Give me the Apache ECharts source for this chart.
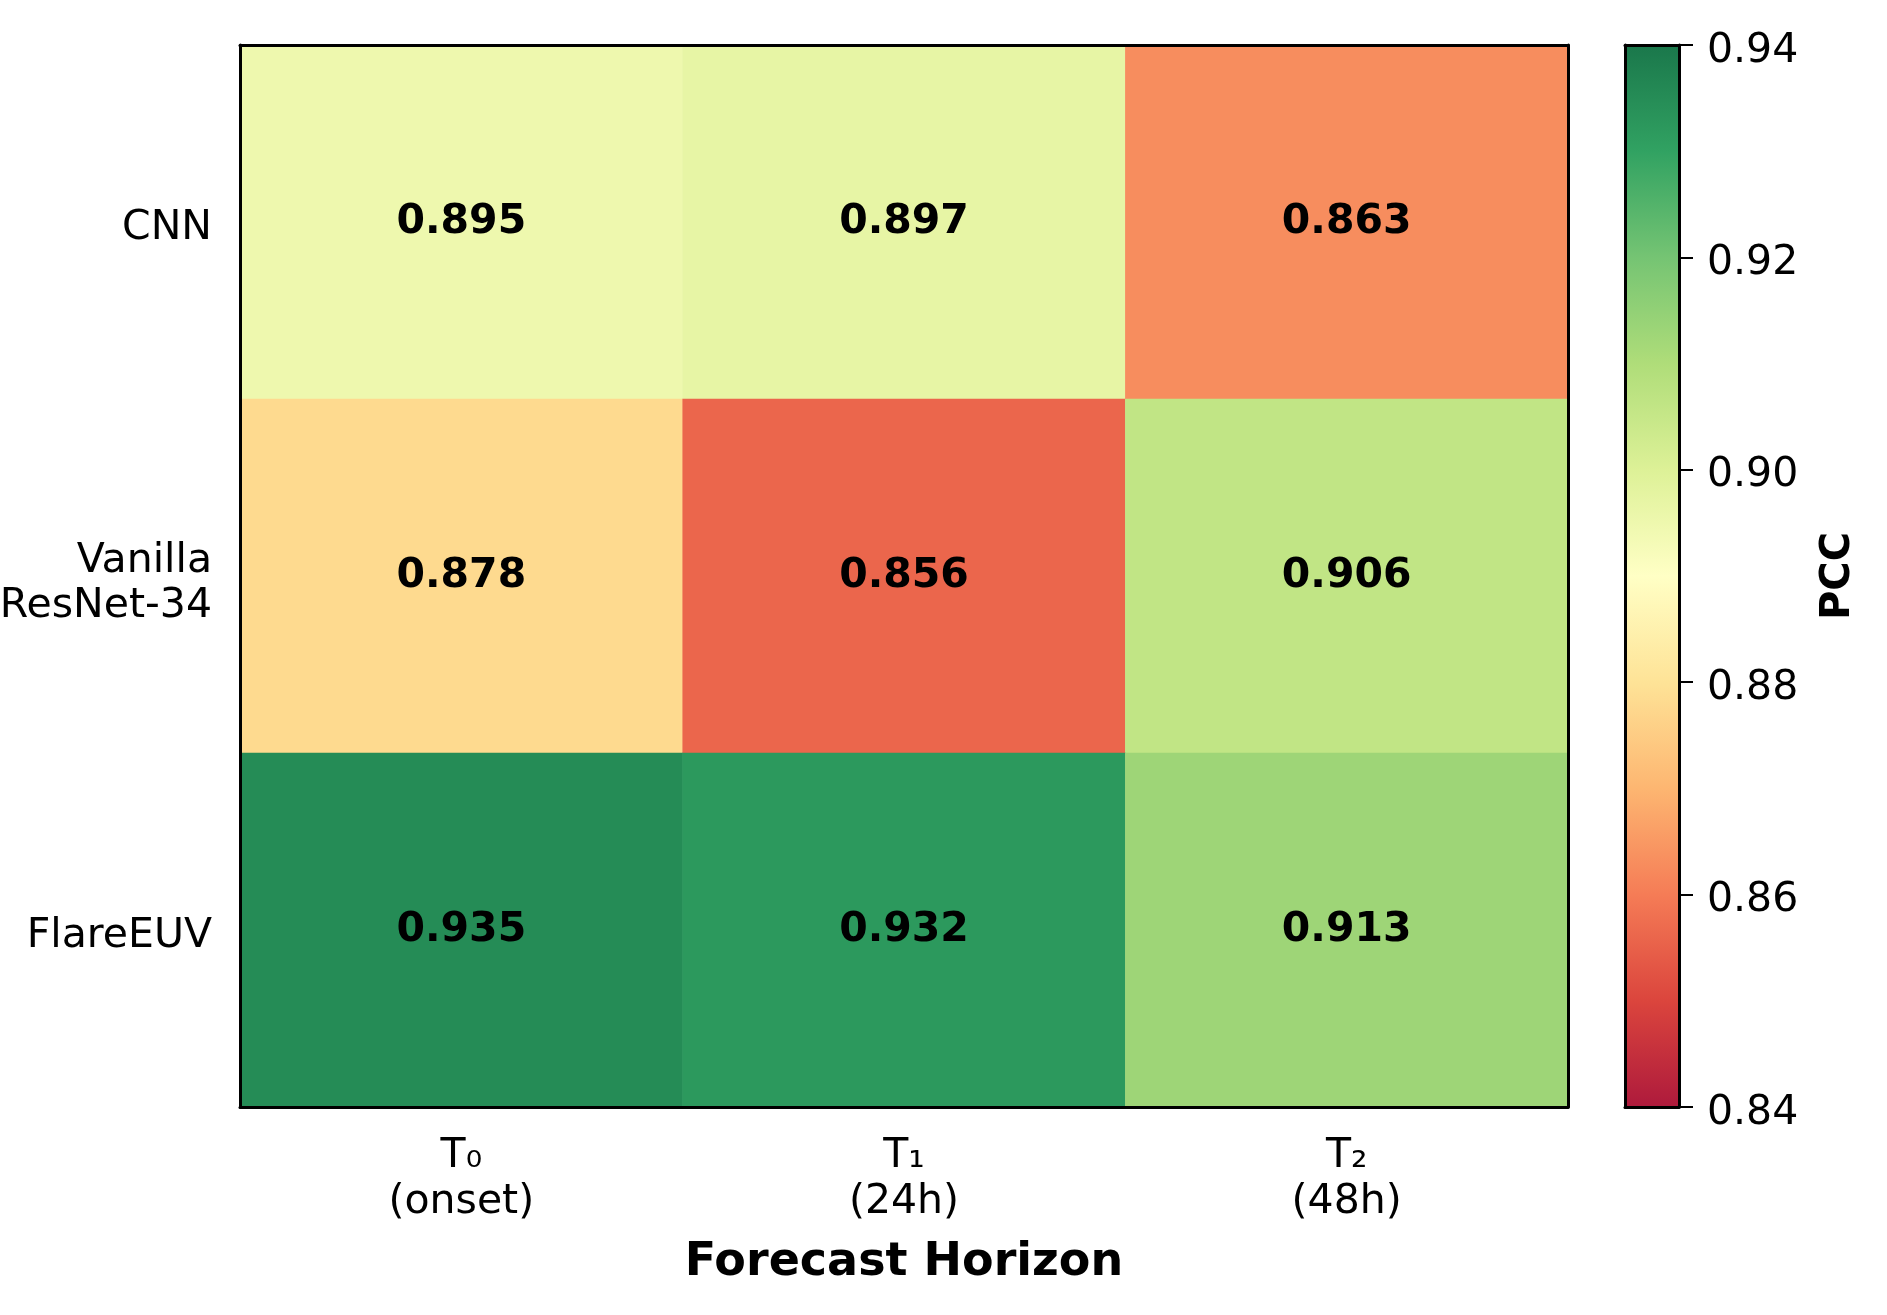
<!DOCTYPE html>
<html>
<head>
<meta charset="utf-8">
<script src="https://cdn.jsdelivr.net/npm/echarts@6/dist/echarts.min.js"></script>
<style>
  html, body { margin: 0; padding: 0; background: #fff; }
  #main { width: 1887px; height: 1315px; }
</style>
</head>
<body>
<div id="main"></div>
<script>
var horizons = ['T\u2080\n(onset)', 'T\u2081\n(24h)', 'T\u2082\n(48h)'];
var models = ['CNN', 'Vanilla\nResNet-34', 'FlareEUV'];
var pccCNN = [0.895, 0.897, 0.863];
var pccResNet = [0.878, 0.856, 0.906];
var pccFlareEUV = [0.935, 0.932, 0.913];
var pccMin = 0.84, pccMax = 0.94, pccStep = 0.02;

// RdYlGn, drawn at alpha 0.9 over white
var rdylgn = ['#ae1a3c', '#db453d', '#f57c56', '#fdb671', '#fee397', '#ffffc5',
              '#ddf197', '#afdd79', '#75c473', '#31a262', '#1a774b'];

var rows = [pccCNN, pccResNet, pccFlareEUV];
var cells = [];
rows.forEach(function (row, r) {
  row.forEach(function (v, c) { cells.push([c, r, v]); });
});

// colorbar box
var cb = { left: 1625, top: 45, width: 54, height: 1062 };

// small blank line on top pushes labels down a bit (matplotlib centers on baseline)
function shifted(text) {
  var lines = String(text).split('\n');
  var sp = lines.length > 1 ? '{S| }' : '{s| }';
  return sp + '\n{a|' + lines.join('}\n{a|') + '}';
}

var font = 'DejaVu Sans';
var dom = document.getElementById('main');
var myChart = echarts.init(dom, null, { renderer: 'canvas' });

var option = {
  backgroundColor: '#fff',
  animation: false,
  textStyle: { fontFamily: font, color: '#000' },
  grid: [
    { left: 240, top: 45, width: 1328, height: 1062, outerBoundsMode: 'none', containLabel: false },
    { left: cb.left, top: cb.top, width: cb.width, height: cb.height, show: false,
      outerBoundsMode: 'none', containLabel: false }
  ],
  graphic: [{
    type: 'rect', z: 1, silent: true,
    shape: { x: cb.left, y: cb.top, width: cb.width, height: cb.height },
    style: {
      fill: new echarts.graphic.LinearGradient(0, 1, 0, 0, rdylgn.map(function (c, i) {
        return { offset: i / (rdylgn.length - 1), color: c };
      }))
    }
  }],
  xAxis: [
    {
      type: 'category', data: horizons, gridIndex: 0, position: 'bottom', z: 5,
      axisLine: { lineStyle: { color: '#000', width: 3 } },
      axisTick: { alignWithLabel: true, length: 14, lineStyle: { color: '#000', width: 2 } },
      axisLabel: { fontSize: 41, lineHeight: 46, margin: 26, color: '#000', fontFamily: font },
      splitLine: { show: false },
      name: 'Forecast Horizon', nameLocation: 'middle', nameGap: 133,
      nameTextStyle: { fontSize: 46, fontWeight: 'bold', color: '#000', fontFamily: font }
    },
    {
      type: 'category', data: horizons, gridIndex: 0, position: 'top', z: 5,
      axisLine: { lineStyle: { color: '#000', width: 3 } },
      axisTick: { show: false }, axisLabel: { show: false }
    },
    { type: 'value', gridIndex: 1, position: 'top', min: 0, max: 1, z: 5,
      axisLine: { show: true, onZero: false, lineStyle: { color: '#000', width: 3 } },
      axisTick: { show: false }, axisLabel: { show: false }, splitLine: { show: false } },
    { type: 'value', gridIndex: 1, position: 'bottom', min: 0, max: 1, z: 5,
      axisLine: { show: true, onZero: false, lineStyle: { color: '#000', width: 3 } },
      axisTick: { show: false }, axisLabel: { show: false }, splitLine: { show: false } }
  ],
  yAxis: [
    {
      type: 'category', data: models, gridIndex: 0, inverse: true, position: 'left', z: 5,
      axisLine: { lineStyle: { color: '#000', width: 3 } },
      axisTick: { alignWithLabel: true, length: 14, lineStyle: { color: '#000', width: 2 } },
      axisLabel: {
        margin: 28, align: 'right', formatter: shifted,
        rich: {
          s: { fontSize: 8, lineHeight: 12 },
          S: { fontSize: 8, lineHeight: 15 },
          a: { fontSize: 41, lineHeight: 45, color: '#000', fontFamily: font, align: 'right' }
        }
      }
    },
    {
      type: 'category', data: models, gridIndex: 0, inverse: true, position: 'right', z: 5,
      axisLine: { lineStyle: { color: '#000', width: 3 } },
      axisTick: { show: false }, axisLabel: { show: false }
    },
    {
      type: 'value', gridIndex: 1, position: 'right', min: pccMin, max: pccMax, interval: pccStep, z: 5,
      axisLine: { show: true, onZero: false, lineStyle: { color: '#000', width: 3 } },
      axisTick: { show: true, length: 14, lineStyle: { color: '#000', width: 2 } },
      axisLabel: {
        margin: 28,
        formatter: function (v) { return shifted(v.toFixed(2)); },
        rich: {
          s: { fontSize: 8, lineHeight: 12 },
          a: { fontSize: 41, lineHeight: 45, color: '#000', fontFamily: font }
        }
      },
      splitLine: { show: false },
      name: 'PCC', nameLocation: 'middle', nameRotate: 90, nameGap: 140,
      nameTextStyle: { fontSize: 40, fontWeight: 'bold', color: '#000', fontFamily: font }
    },
    {
      type: 'value', gridIndex: 1, position: 'left', min: pccMin, max: pccMax, z: 5,
      axisLine: { show: true, onZero: false, lineStyle: { color: '#000', width: 3 } },
      axisTick: { show: false }, axisLabel: { show: false }, splitLine: { show: false }
    }
  ],
  visualMap: {
    type: 'continuous', seriesIndex: 0, min: pccMin, max: pccMax,
    show: false,
    inRange: { color: rdylgn }
  },
  series: [
    {
      type: 'heatmap', xAxisIndex: 0, yAxisIndex: 0, data: cells,
      itemStyle: { borderWidth: 0 },
      label: {
        show: true, fontSize: 41, fontWeight: 'bold', color: '#000', fontFamily: font,
        formatter: function (p) { return p.value[2].toFixed(3); }
      },
      emphasis: { disabled: true }
    }
  ]
};

myChart.setOption(option);
window.addEventListener('resize', myChart.resize);
</script>
</body>
</html>
